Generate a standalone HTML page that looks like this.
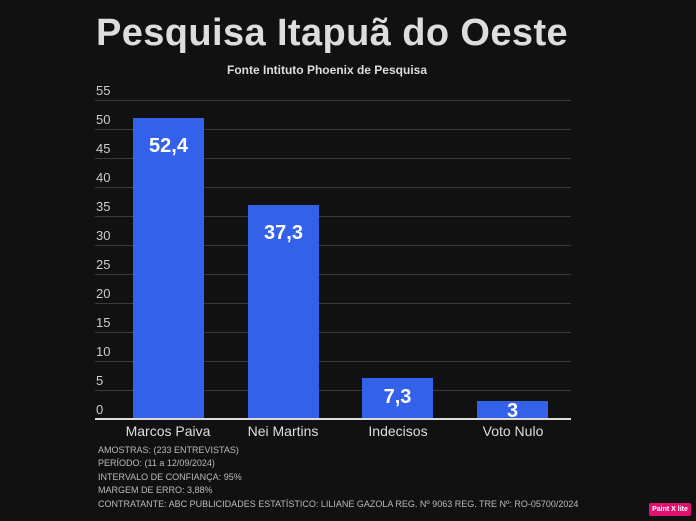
<!DOCTYPE html>
<html><head><style>
body{margin:0;width:696px;height:521px;background:#111111;position:relative;overflow:hidden;font-family:"Liberation Sans",sans-serif;color:#ddd}
.a{position:absolute}
.g{position:absolute;left:95px;width:476px;height:1px;background:#3a3a3a}
.t{position:absolute;left:96px;font-size:13px;color:#ccc}
.b{position:absolute;background:#3461ea;width:71px}
.v{position:absolute;width:71px;text-align:center;color:#fff;font-weight:bold;font-size:20px}
.x{position:absolute;width:120px;text-align:center;font-size:14px;color:#ddd;top:423px}
.f{position:absolute;left:98px;font-size:9px;color:#bbb}
</style></head><body>
<div class="a" style="left:0;width:664px;text-align:center;top:12px;font-size:38px;letter-spacing:0.4px;font-weight:bold;color:#ddd">Pesquisa Itapuã do Oeste</div>
<div class="a" style="left:0;width:654px;text-align:center;top:63px;font-size:12px;font-weight:bold;color:#ddd">Fonte Intituto Phoenix de Pesquisa</div>
<div class="g" style="top:100px"></div><div class="t" style="top:83px">55</div>
<div class="g" style="top:129px"></div><div class="t" style="top:112px">50</div>
<div class="g" style="top:158px"></div><div class="t" style="top:141px">45</div>
<div class="g" style="top:187px"></div><div class="t" style="top:170px">40</div>
<div class="g" style="top:216px"></div><div class="t" style="top:199px">35</div>
<div class="g" style="top:245px"></div><div class="t" style="top:228px">30</div>
<div class="g" style="top:274px"></div><div class="t" style="top:257px">25</div>
<div class="g" style="top:303px"></div><div class="t" style="top:286px">20</div>
<div class="g" style="top:332px"></div><div class="t" style="top:315px">15</div>
<div class="g" style="top:361px"></div><div class="t" style="top:344px">10</div>
<div class="g" style="top:390px"></div><div class="t" style="top:373px">5</div>
<div class="t" style="top:402px">0</div>
<div class="b" style="left:133px;top:118px;height:301px"></div><div class="v" style="left:133px;top:135px">52,4</div>
<div class="b" style="left:248px;top:205px;height:214px"></div><div class="v" style="left:248px;top:222px">37,3</div>
<div class="b" style="left:362px;top:378px;height:41px"></div><div class="v" style="left:362px;top:386px">7,3</div>
<div class="b" style="left:477px;top:401px;height:18px"></div><div class="v" style="left:477px;top:400px">3</div>
<div class="a" style="left:95px;top:418px;width:476px;height:2px;background:#ddd"></div>
<div class="x" style="left:108px">Marcos Paiva</div>
<div class="x" style="left:223px">Nei Martins</div>
<div class="x" style="left:338px">Indecisos</div>
<div class="x" style="left:453px">Voto Nulo</div>
<div class="f" style="top:445px">AMOSTRAS: (233 ENTREVISTAS)</div>
<div class="f" style="top:458px">PERÍODO: (11 a 12/09/2024)</div>
<div class="f" style="top:472px">INTERVALO DE CONFIANÇA: 95%</div>
<div class="f" style="top:485px">MARGEM DE ERRO: 3,88%</div>
<div class="f" style="top:499px">CONTRATANTE: ABC PUBLICIDADES ESTATÍSTICO: LILIANE GAZOLA REG. Nº 9063 REG. TRE Nº: RO-05700/2024</div>
<div class="a" style="left:649px;top:503px;width:42px;height:13px;background:#e0106e;border-radius:2px;color:#fff;font-size:7px;font-weight:bold;text-align:center;line-height:13px">Paint X lite</div>
</body></html>
